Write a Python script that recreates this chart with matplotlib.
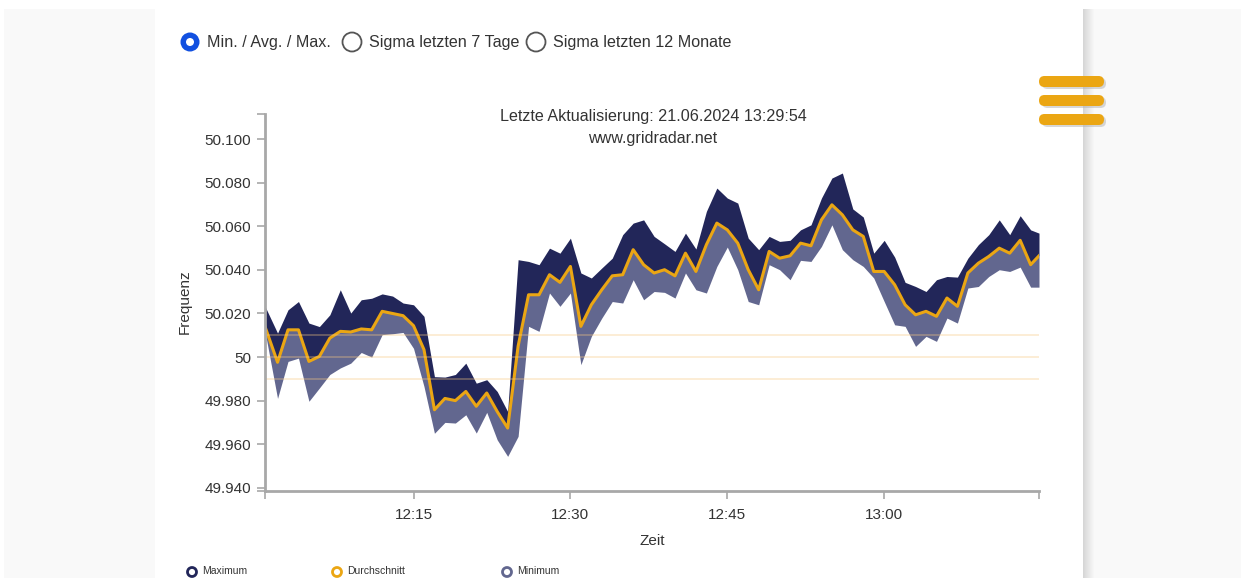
import matplotlib
matplotlib.use("Agg")
import matplotlib.pyplot as plt
from matplotlib.patches import FancyBboxPatch, Rectangle, Circle

W, H = 1241, 578

# minutes after 12:00 (21.06.2024)
MINUTES = [0.8] + list(range(2, 75)) + [74.8]

FREQ_MAX = [
    50.0233, 50.0110, 50.0217, 50.0255, 50.0156, 50.0140, 50.0194, 50.0309, 50.0202, 50.0263,
    50.0270, 50.0290, 50.0280, 50.0248, 50.0240, 50.0187, 49.9910, 49.9908, 49.9920, 49.9972,
    49.9880, 49.9896, 49.9842, 49.9750, 50.0447, 50.0439, 50.0424, 50.0500, 50.0477, 50.0546,
    50.0386, 50.0363, 50.0409, 50.0454, 50.0562, 50.0615, 50.0630, 50.0554, 50.0520, 50.0485,
    50.0569, 50.0496, 50.0669, 50.0776, 50.0730, 50.0707, 50.0546, 50.0493, 50.0554, 50.0531,
    50.0536, 50.0584, 50.0607, 50.0730, 50.0822, 50.0845, 50.0680, 50.0643, 50.0477, 50.0536,
    50.0459, 50.0343, 50.0324, 50.0301, 50.0355, 50.0370, 50.0367, 50.0454, 50.0516, 50.0562,
    50.0630, 50.0562, 50.0649, 50.0584, 50.0569,
]
FREQ_AVG = [
    50.0140, 49.9976, 50.0125, 50.0125, 49.9980, 50.0003, 50.0087, 50.0118, 50.0115, 50.0129,
    50.0125, 50.0210, 50.0200, 50.0190, 50.0144, 50.0034, 49.9758, 49.9810, 49.9800, 49.9842,
    49.9774, 49.9835, 49.9750, 49.9674, 50.0050, 50.0286, 50.0286, 50.0378, 50.0343, 50.0416,
    50.0141, 50.0240, 50.0309, 50.0373, 50.0378, 50.0493, 50.0424, 50.0386, 50.0401, 50.0373,
    50.0477, 50.0393, 50.0516, 50.0615, 50.0584, 50.0523, 50.0401, 50.0309, 50.0485, 50.0454,
    50.0465, 50.0523, 50.0511, 50.0630, 50.0699, 50.0653, 50.0584, 50.0554, 50.0393, 50.0393,
    50.0332, 50.0240, 50.0194, 50.0210, 50.0187, 50.0271, 50.0233, 50.0386, 50.0431, 50.0462,
    50.0500, 50.0477, 50.0536, 50.0424, 50.0465,
]
FREQ_MIN = [
    50.0118, 49.9810, 49.9980, 49.9995, 49.9797, 49.9858, 49.9920, 49.9950, 49.9972, 50.0021,
    50.0000, 50.0103, 50.0107, 50.0113, 50.0040, 49.9865, 49.9650, 49.9700, 49.9697, 49.9735,
    49.9651, 49.9746, 49.9620, 49.9544, 49.9636, 50.0141, 50.0118, 50.0294, 50.0233, 50.0294,
    49.9965, 50.0095, 50.0179, 50.0255, 50.0248, 50.0355, 50.0263, 50.0301, 50.0297, 50.0271,
    50.0386, 50.0309, 50.0294, 50.0416, 50.0505, 50.0401, 50.0255, 50.0240, 50.0424, 50.0401,
    50.0355, 50.0444, 50.0439, 50.0508, 50.0607, 50.0493, 50.0447, 50.0416, 50.0363, 50.0255,
    50.0148, 50.0141, 50.0049, 50.0095, 50.0072, 50.0179, 50.0156, 50.0317, 50.0324, 50.0370,
    50.0401, 50.0393, 50.0413, 50.0321, 50.0321,
]

REF_LINES = [50.01, 50.0, 49.99]
Y_TICKS = [49.94, 49.96, 49.98, 50.0, 50.02, 50.04, 50.06, 50.08, 50.10]
Y_LABELS = ["49.940", "49.960", "49.980", "50", "50.020", "50.040", "50.060", "50.080", "50.100"]
X_TICKS = [15, 30, 45, 60]
X_LABELS = ["12:15", "12:30", "12:45", "13:00"]

RADIO_LABELS = ["Min. / Avg. / Max.", "Sigma letzten 7 Tage", "Sigma letzten 12 Monate"]
LEGEND_LABELS = ["Maximum", "Durchschnitt", "Minimum"]

NAVY = "#222659"
SLATE = "#62678f"
ORANGE = "#eba613"
TEXT = "#333333"
AXIS = "#a8a8a8"

plt.rcParams["font.family"] = ["Liberation Sans", "DejaVu Sans"]

fig = plt.figure(figsize=(W / 100, H / 100), dpi=100)

# page background drawn in pixel coordinates
bg = fig.add_axes([0, 0, 1, 1], zorder=0)
bg.set_xlim(0, W)
bg.set_ylim(H, 0)
bg.axis("off")
bg.add_patch(Rectangle((4, 9), 151, H, color="#f9f9f9", lw=0))
bg.add_patch(Rectangle((1083, 9), W - 1083, H, color="#f9f9f9", lw=0))
for i in range(12):
    g = 0.84 + 0.0125 * i
    bg.add_patch(Rectangle((1083 + i, 9), 1, H, color=(g, g, g), lw=0))

# hamburger menu
for yc in [82, 101, 120]:
    bg.add_patch(FancyBboxPatch((1042, yc - 4), 64, 11, boxstyle="round,pad=0,rounding_size=5.5",
                                color="#b0b0b0", lw=0, alpha=0.5))
    bg.add_patch(FancyBboxPatch((1039, yc - 6), 65, 11, boxstyle="round,pad=0,rounding_size=5.5",
                                color=ORANGE, lw=0))

# radio buttons
radio_x = [190, 352, 536]
for i, (rx, lab) in enumerate(zip(radio_x, RADIO_LABELS)):
    if i == 0:
        bg.add_patch(Circle((rx, 42), 9.5, color="#1250e0", lw=0))
        bg.add_patch(Circle((rx, 42), 4, color="white", lw=0))
    else:
        bg.add_patch(Circle((rx, 42), 9.5, facecolor="white", edgecolor="#555555", lw=1.3))
    bg.text(rx + 17, 43, lab, fontsize=11.6, color=TEXT, va="center", ha="left")

# legend at the bottom edge
for lx, col, lab in zip([192, 337, 507], [NAVY, ORANGE, SLATE], LEGEND_LABELS):
    bg.add_patch(Circle((lx, 572), 4.5, facecolor="white", edgecolor=col, lw=2))
    bg.text(lx + 10, 576, lab, fontsize=7.5, color=TEXT, va="bottom", ha="left")

bg.text(653, 116, "Letzte Aktualisierung: 21.06.2024 13:29:54", fontsize=11.6,
        color=TEXT, ha="center", va="center")
bg.text(653, 138, "www.gridradar.net", fontsize=11.6, color=TEXT, ha="center", va="center")
bg.text(185, 302, "Frequenz", fontsize=11, color=TEXT, rotation=90, ha="center", va="center")
bg.text(652, 541, "Zeit", fontsize=11, color=TEXT, ha="center", va="center")

# main chart
ax = fig.add_axes([265 / W, 87 / H, 774 / W, 377 / H], zorder=1)
ax.patch.set_alpha(0)
ax.fill_between(MINUTES, FREQ_AVG, FREQ_MAX, color=NAVY, lw=0)
ax.fill_between(MINUTES, FREQ_MIN, FREQ_AVG, color=SLATE, lw=0)
ax.plot(MINUTES, FREQ_AVG, color=ORANGE, lw=2.2)
for r in REF_LINES:
    ax.axhline(r, color="#f7c880", lw=1.3, alpha=0.35)

ax.set_xlim(0.8, 74.8)
ax.set_ylim(49.9385, 50.1116)
ax.set_yticks(Y_TICKS)
ax.set_yticklabels(Y_LABELS)
ax.set_xticks(X_TICKS)
ax.set_xticklabels(X_LABELS)
ax.set_xticks([0.8, 74.8], minor=True)
ax.set_yticks([49.9385, 50.1116], minor=True)

for s in ["top", "right"]:
    ax.spines[s].set_visible(False)
for s in ["left", "bottom"]:
    ax.spines[s].set_color(AXIS)
    ax.spines[s].set_linewidth(2)
ax.tick_params(which="both", length=6, width=1.2, color=AXIS, labelcolor=TEXT, labelsize=11)
ax.tick_params(axis="y", pad=4)
ax.tick_params(axis="x", pad=6)

fig.savefig("out.png", dpi=100)
